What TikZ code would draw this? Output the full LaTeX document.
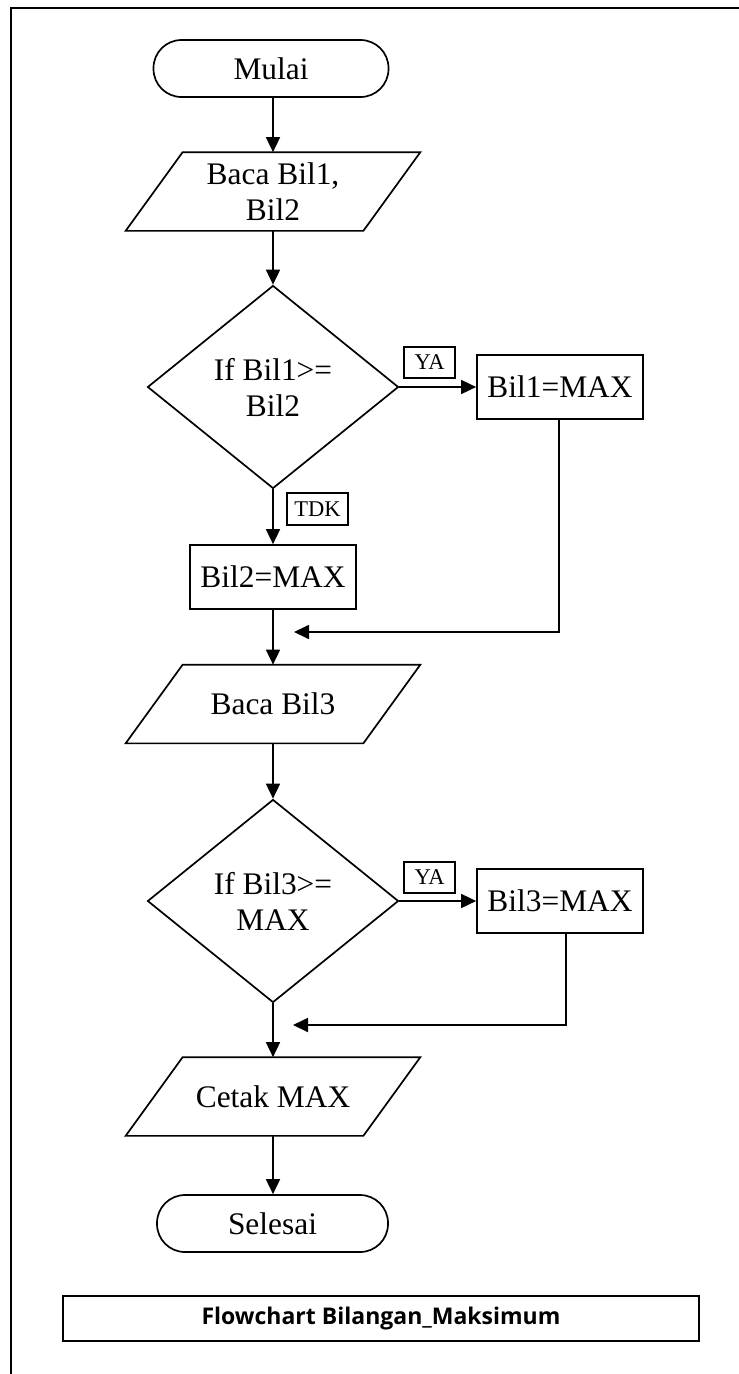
\documentclass[tikz,border=0pt]{standalone}
\usepackage{fontspec}
\setmainfont{Liberation Serif}
\newfontfamily\titlefont{Open Sans}
\usetikzlibrary{shapes.geometric,arrows.meta,calc}
\begin{document}
\begin{tikzpicture}[x=1pt,y=-1pt, line width=1.7pt,
  txt/.style={font=\fontsize{31.4}{36}\selectfont, align=center},
  term/.style={txt, draw, rounded corners=28pt, minimum height=57pt, inner sep=0pt},
  proc/.style={txt, draw, minimum width=166pt, minimum height=64pt, inner sep=0pt},
  dec/.style={txt, draw, diamond, aspect=1.24, minimum width=251pt, minimum height=203pt, inner sep=0pt},
  iobox/.style={txt, minimum width=236pt, minimum height=77pt, inner sep=0pt},
  lbl/.style={draw, line width=1.3pt, font=\fontsize{22.5}{24}\selectfont, inner sep=0pt},
  arr/.style={-{Triangle[length=15pt,width=14pt]}},
]
\useasboundingbox (0,0) rectangle (739,1374);
\draw[line width=1.8pt] (11,1380) -- (11,8) -- (745,8);

\node[term, minimum width=235pt] (mulai) at (271,68.5) {Mulai};
\node[iobox] (in1) at (273,191.5) {Baca Bil1,\\Bil2};
\node[dec] (d1) at (273,387) {If Bil1>=\\Bil2};
\node[proc] (b1) at (560,387) {Bil1=MAX};
\node[proc] (b2) at (273,577) {Bil2=MAX};
\node[iobox] (in2) at (273,704) {Baca Bil3};
\node[dec] (d2) at (273,901) {If Bil3>=\\MAX};
\node[proc] (b3) at (560,901) {Bil3=MAX};
\node[iobox] (out1) at (273,1096.5) {Cetak MAX};
\node[term, minimum width=231pt] (selesai) at (272.5,1223.5) {Selesai};

\foreach \n in {in1,in2,out1}
  \draw ($(\n.north west)+(28.5,0)$) -- ($(\n.north east)+(28.5,0)$)
     -- ($(\n.south east)+(-28.5,0)$) -- ($(\n.south west)+(-28.5,0)$) -- cycle;

\node[lbl, minimum width=51pt, minimum height=31pt] (ya1) at (429.5,362.5) {YA};
\node[lbl, minimum width=61pt, minimum height=32pt] (tdk) at (317.5,509) {TDK};
\node[lbl, minimum width=51pt, minimum height=31pt] (ya2) at (429.5,877.5) {YA};

\coordinate (m1) at (294,632);
\coordinate (m2) at (293,1025);

\draw[arr] (in1.north |- mulai.south) -- (in1.north);
\draw[arr] (in1.south) -- (d1.north);
\draw[arr] (d1.east) -- (b1.west);
\draw[arr] (d1.south) -- (b2.north);
\draw[arr] ([xshift=-1pt]b1.south) |- (m1);
\draw[arr] (b2.south) -- (in2.north);
\draw[arr] (in2.south) -- (d2.north);
\draw[arr] (d2.east) -- (b3.west);
\draw[arr] ([xshift=6pt]b3.south) |- (m2);
\draw[arr] (d2.south) -- (out1.north);
\draw[arr] (out1.south) -- (out1.south |- selesai.north);

\node[draw, minimum width=636pt, minimum height=45pt, inner sep=0pt,
      font=\titlefont\bfseries\fontsize{23}{25}\selectfont] (title) at (381,1318.5)
      {Flowchart Bilangan\_Maksimum};
\end{tikzpicture}
\end{document}
